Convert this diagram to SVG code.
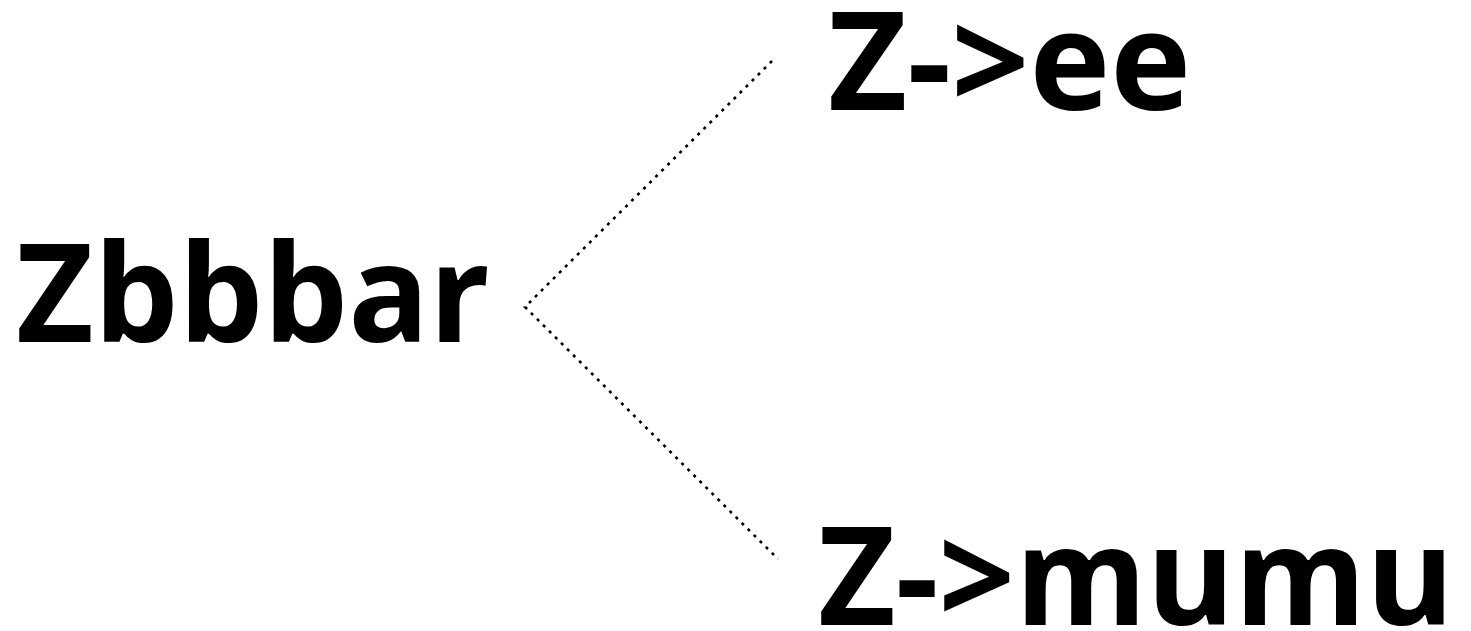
<svg xmlns="http://www.w3.org/2000/svg" width="1471" height="631" viewBox="0 0 1471 631">
<style>
.lbl{font-family:"Open Sans","Lato","Liberation Sans",sans-serif;font-weight:700;font-size:137px;fill:#000}
.conn{fill:none;stroke:#000;stroke-width:2.6;stroke-dasharray:3 5.5}
</style>
<rect width="1471" height="631" fill="#fff"/>
<g id="connectors">
<path class="conn" d="M772,61 L525,307 L778,559"/>
</g>
<g id="node-zbbbar"><text class="lbl" x="16" y="342" textLength="474" lengthAdjust="spacingAndGlyphs">Zbbbar</text></g>
<g id="node-zee"><text class="lbl" x="828" y="110" textLength="363" lengthAdjust="spacingAndGlyphs">Z-&gt;ee</text></g>
<g id="node-zmumu"><text class="lbl" x="818" y="625" textLength="636" lengthAdjust="spacingAndGlyphs">Z-&gt;mumu</text></g>
</svg>
